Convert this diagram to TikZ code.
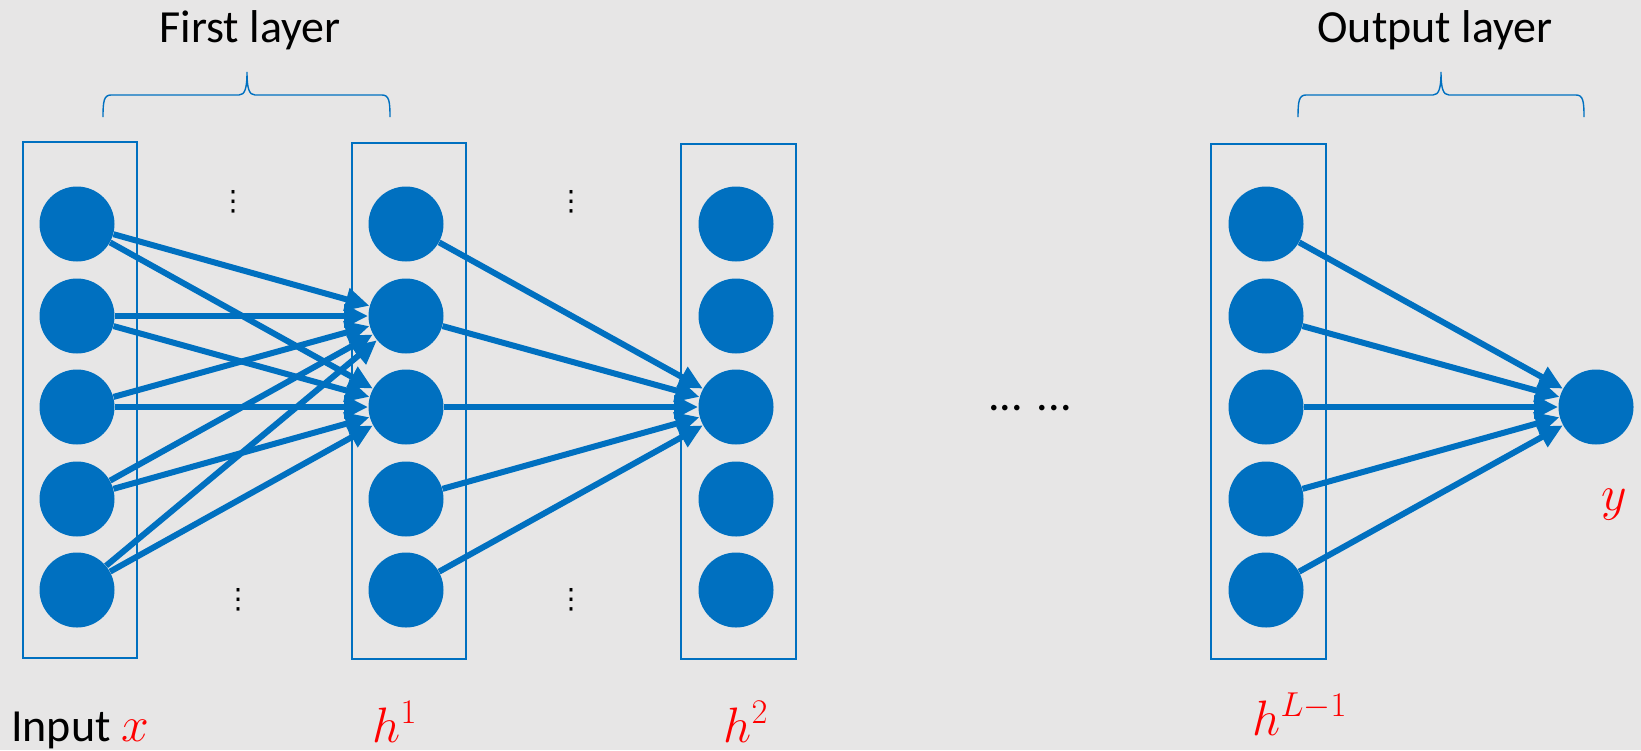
\documentclass[tikz,border=0pt]{standalone}
\usepackage{fontspec}
\setmainfont{Carlito}
\newfontfamily\symfont{DejaVu Sans}
\usetikzlibrary{arrows.meta}
\definecolor{nnblue}{RGB}{0,112,192}
\definecolor{bggray}{RGB}{231,230,230}
% curly brace over a layer: left x, tip x, right x
\newcommand{\layerbrace}[3]{%
  \draw[nnblue, line width=0.7pt] (#1,117) .. controls (#1,101) and (#1+1,95) .. (#1+8,95) -- (#2-8,95)
    .. controls (#2-2,95) and (#2,88) .. (#2,72) .. controls (#2,88) and (#2+2,95) .. (#2+8,95)
    -- (#3-8,95) .. controls (#3-1,95) and (#3,101) .. (#3,117);}
\begin{document}
\begin{tikzpicture}[>={Triangle[length=12pt,width=11pt]}, x=0.5pt, y=-0.5pt, font=\fontsize{23}{28}\selectfont,
    neuron/.style={circle, fill=nnblue, minimum size=37.5pt, inner sep=0pt},
    link/.style={->, nnblue, line width=3pt},
    layerbox/.style={nnblue, line width=1.4pt},
    vdotsmark/.style={font=\symfont\fontsize{14}{14}\selectfont, inner sep=0pt}]
            \fill[bggray] (0,0) rectangle (1641,750);
            \useasboundingbox (0,0) rectangle (1641,750);
            \draw[layerbox] (23,142) rectangle (137,658); \draw[layerbox] (352,143) rectangle (466,659);
            \draw[layerbox] (681,144) rectangle (796,659); \draw[layerbox] (1211,144) rectangle (1326,659);
            \node[neuron] (x1) at (77,224) {}; \node[neuron] (x2) at (77,316) {}; \node[neuron] (x3) at (77,407) {};
            \node[neuron] (x4) at (77,499) {}; \node[neuron] (x5) at (77,590) {};
            \node[neuron] (ha1) at (406,224) {}; \node[neuron] (ha2) at (406,316) {}; \node[neuron] (ha3) at (406,407) {};
            \node[neuron] (ha4) at (406,499) {}; \node[neuron] (ha5) at (406,590) {};
            \node[neuron] (hb1) at (736,224) {}; \node[neuron] (hb2) at (736,316) {}; \node[neuron] (hb3) at (736,407) {};
            \node[neuron] (hb4) at (736,499) {}; \node[neuron] (hb5) at (736,590) {};
            \node[neuron] (hc1) at (1266,224) {}; \node[neuron] (hc2) at (1266,316) {}; \node[neuron] (hc3) at (1266,407) {};
            \node[neuron] (hc4) at (1266,499) {}; \node[neuron] (hc5) at (1266,590) {};
            \node[neuron] (y) at (1596,407) {};
            \draw[link] (x1) -- (ha2); \draw[link] (x2) -- (ha2); \draw[link] (x3) -- (ha2); \draw[link] (x4) -- (ha2); \draw[link] (x5) -- (ha2);
            \draw[link] (x1) -- (ha3); \draw[link] (x2) -- (ha3); \draw[link] (x3) -- (ha3); \draw[link] (x4) -- (ha3); \draw[link] (x5) -- (ha3);
            \draw[link] (ha1) -- (hb3); \draw[link] (ha2) -- (hb3); \draw[link] (ha3) -- (hb3); \draw[link] (ha4) -- (hb3); \draw[link] (ha5) -- (hb3);
            \draw[link] (hc1) -- (y); \draw[link] (hc2) -- (y); \draw[link] (hc3) -- (y); \draw[link] (hc4) -- (y); \draw[link] (hc5) -- (y);
            \node[vdotsmark] (dotsa) at (233,202) {⋮}; \node[vdotsmark] (dotsb) at (238,600) {⋮};
            \node[vdotsmark] (dotsc) at (571,202) {⋮}; \node[vdotsmark] (dotsd) at (571,600) {⋮};
            \node (skip) at (1030,408) {... ...};
            \layerbrace{103}{247}{390} \layerbrace{1298}{1441}{1584}
            \node[anchor=base] (first) at (250,42) {First layer};
            \node[anchor=base] (outlayer) at (1435,42) {Output layer};
            \node[anchor=base] (inlabel) at (80,741) {Input {\color{red}$x$}};
            \node[anchor=base, red, font=\fontsize{25}{28}\selectfont] (h1label) at (395,742) {$h^1$};
            \node[anchor=base, red, font=\fontsize{25}{28}\selectfont] (h2label) at (746,742) {$h^2$};
            \node[anchor=base, red, font=\fontsize{25}{28}\selectfont] (hlabel) at (1300,735) {$h^{L-1}$};
            \node[anchor=base, red, font=\fontsize{25}{28}\selectfont] (ylabel) at (1614,510) {$y$};
        \end{tikzpicture}
\end{document}
